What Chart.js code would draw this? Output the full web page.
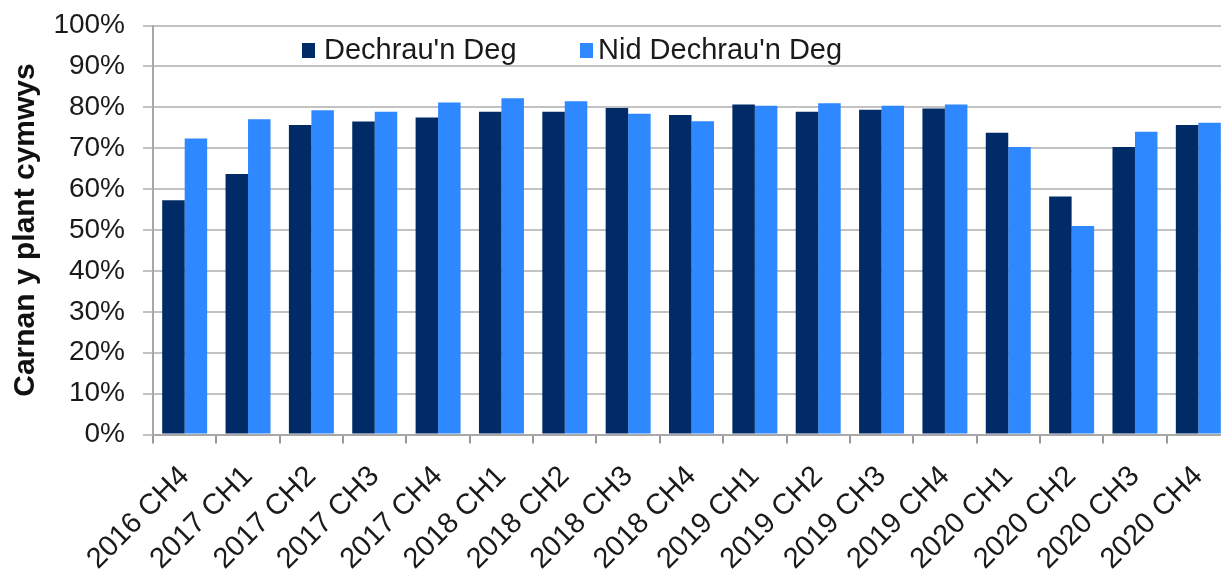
<!DOCTYPE html>
<html>
<head>
<meta charset="utf-8">
<script src="https://cdn.jsdelivr.net/npm/chart.js@4/dist/chart.umd.min.js"></script>
<style>
  html, body { margin: 0; padding: 0; background: #fff; overflow: hidden; }
  #wrap { width: 1230px; height: 573px; position: relative; }
</style>
</head>
<body>
<div id="wrap"><canvas id="c" width="1230" height="573"></canvas></div>
<script>
const categories = ["2016 CH4","2017 CH1","2017 CH2","2017 CH3","2017 CH4","2018 CH1","2018 CH2","2018 CH3","2018 CH4","2019 CH1","2019 CH2","2019 CH3","2019 CH4","2020 CH1","2020 CH2","2020 CH3","2020 CH4"];
const seriesNames = ["Dechrau'n Deg", "Nid Dechrau'n Deg"];
const dechrauDeg = [57.3, 63.7, 75.7, 76.5, 77.5, 78.9, 78.9, 79.8, 78.1, 80.7, 78.9, 79.4, 79.7, 73.8, 58.2, 70.3, 75.7];
const nidDechrauDeg = [72.4, 77.1, 79.3, 78.9, 81.2, 82.2, 81.5, 78.4, 76.6, 80.4, 81.0, 80.4, 80.7, 70.3, 51.0, 74.0, 76.2];
const yTicks = [0, 10, 20, 30, 40, 50, 60, 70, 80, 90, 100];
const yTitle = "Carnan y plant cymwys";

const FONT = "'Liberation Sans', Arial, sans-serif";
const colors = ["#002B67", "#2E88FF"];

const legendPlugin = {
  id: 'customLegend',
  afterDraw(chart) {
    const ctx = chart.ctx;
    const pos = [{box: 302, text: 324}, {box: 580, text: 598}];
    ctx.save();
    ctx.font = "29px " + FONT;
    ctx.textBaseline = 'middle';
    ctx.textAlign = 'left';
    chart.data.datasets.forEach((ds, i) => {
      ctx.fillStyle = ds.backgroundColor;
      ctx.fillRect(pos[i].box, 43, 13, 15);
      ctx.fillStyle = '#1a1a1a';
      ctx.fillText(ds.label, pos[i].text, 51);
    });
    ctx.restore();
  }
};

new Chart(document.getElementById('c'), {
  type: 'bar',
  data: {
    labels: categories,
    datasets: [
      { label: seriesNames[0], data: dechrauDeg, backgroundColor: colors[0], categoryPercentage: 0.71, barPercentage: 1.0 },
      { label: seriesNames[1], data: nidDechrauDeg, backgroundColor: colors[1], categoryPercentage: 0.71, barPercentage: 1.0 }
    ]
  },
  options: {
    responsive: false,
    animation: false,
    layout: { padding: { top: 25.5, left: 0, right: 0, bottom: 0 } },
    plugins: { legend: { display: false }, tooltip: { enabled: false }, title: { display: false } },
    scales: {
      x: {
        grid: { display: true, drawOnChartArea: false, offset: true, color: '#9a9a9a', lineWidth: 2, tickLength: 9 },
        border: { display: true, color: '#a8a8a8', width: 2 },
        ticks: {
          autoSkip: false, minRotation: 45, maxRotation: 45, color: '#1a1a1a', padding: 16,
          font: { family: FONT, size: 29 }
        },
        afterFit(scale) {
          scale.height = 573 - 434.5;
          scale.paddingLeft = 0; scale.paddingRight = 0; scale.paddingTop = 0; scale.paddingBottom = 0;
        }
      },
      y: {
        min: 0, max: 100,
        afterBuildTicks(scale) { scale.ticks = yTicks.map(v => ({ value: v })); },
        grid: { color: '#c2c2c2', lineWidth: 2, tickLength: 10 },
        border: { display: true, color: '#a8a8a8', width: 2 },
        ticks: {
          color: '#1a1a1a', padding: 18,
          font: { family: FONT, size: 28 },
          callback: v => v + '%'
        },
        title: {
          display: true, text: yTitle, color: '#111',
          font: { family: FONT, size: 30, weight: 'bold' }, padding: { top: 8, bottom: 4 }
        },
        afterFit(scale) {
          scale.width = 153;
          scale.paddingLeft = 0; scale.paddingRight = 0; scale.paddingTop = 0; scale.paddingBottom = 0;
        }
      }
    }
  },
  plugins: [legendPlugin]
});
</script>
</body>
</html>
